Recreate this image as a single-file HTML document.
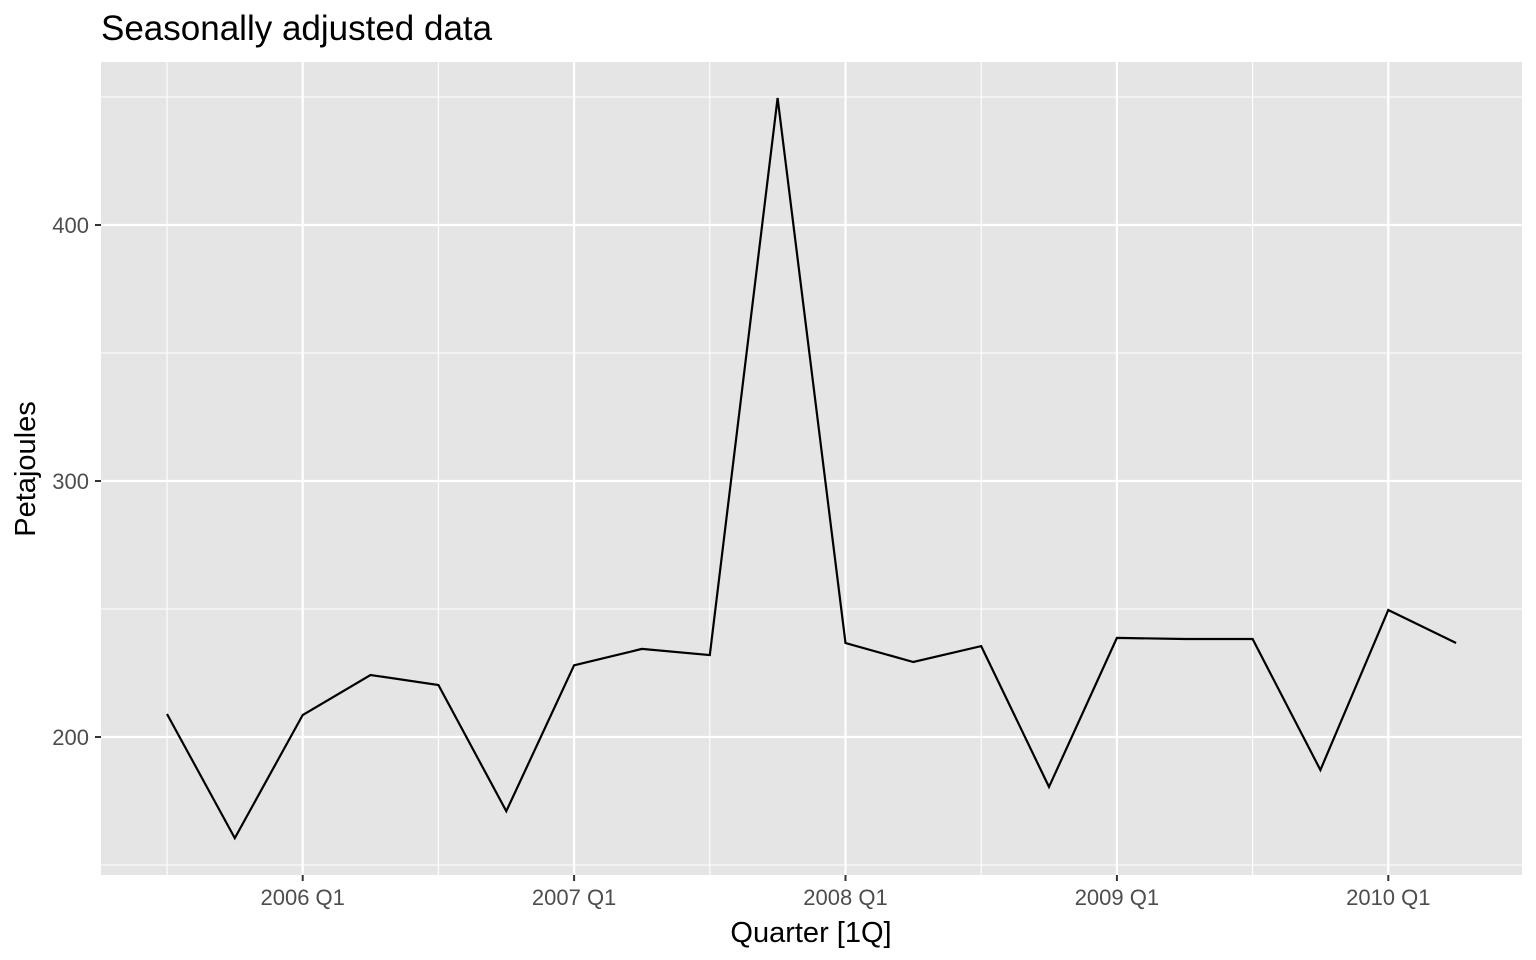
<!DOCTYPE html>
<html><head><meta charset="utf-8"><style>
body{margin:0;background:#fff;}
svg{display:block;font-family:"Liberation Sans",Arial,sans-serif;}
</style></head><body>
<svg id="chart" width="1536" height="960">
<text x="101" y="40" font-size="35" fill="#000">Seasonally adjusted data</text>
<rect x="101" y="62" width="1421" height="813" fill="#e5e5e5"/>
<g id="grid"></g>
<g id="axes"></g>
<path id="line" fill="none" stroke="#000" stroke-width="2.2"/>
<text x="811" y="942" font-size="29" text-anchor="middle" fill="#000">Quarter [1Q]</text>
<text transform="translate(35,469) rotate(-90)" font-size="29" text-anchor="middle" fill="#000">Petajoules</text>
</svg>
<script>
const quarters=["2005 Q3","2005 Q4","2006 Q1","2006 Q2","2006 Q3","2006 Q4","2007 Q1","2007 Q2","2007 Q3","2007 Q4","2008 Q1","2008 Q2","2008 Q3","2008 Q4","2009 Q1","2009 Q2","2009 Q3","2009 Q4","2010 Q1","2010 Q2"];
const values=[209,160.5,208.6,224.2,220.3,171,228,234.4,232,449.6,236.7,229.3,235.5,180.5,238.7,238.3,238.3,187.1,249.6,236.7];
const yTicks=[200,300,400];
const yMinor=[150,250,350,450];
const xTickLabels=["2006 Q1","2007 Q1","2008 Q1","2009 Q1","2010 Q1"];
const xMinorLabels=["2005 Q3","2006 Q3","2007 Q3","2008 Q3","2009 Q3"];

const NS="http://www.w3.org/2000/svg";
function xPos(q){return 167+quarters.indexOf(q)*67.85;}
function yPos(v){return 737-(v-200)*2.56;}
const grid=document.getElementById('grid'),axes=document.getElementById('axes');
function ln(p,x1,y1,x2,y2,c,w){const l=document.createElementNS(NS,'line');
l.setAttribute('x1',x1);l.setAttribute('y1',y1);l.setAttribute('x2',x2);l.setAttribute('y2',y2);
l.setAttribute('stroke',c);l.setAttribute('stroke-width',w);p.appendChild(l);return l;}
function tx(p,x,y,s,a){const t=document.createElementNS(NS,'text');t.setAttribute('x',x);t.setAttribute('y',y);
t.setAttribute('font-size','22');t.setAttribute('fill','#4d4d4d');t.setAttribute('text-anchor',a);t.textContent=s;p.appendChild(t);return t;}
yMinor.forEach(v=>{const l=ln(grid,101,yPos(v),1522,yPos(v),'#fff',1.1);

});
xMinorLabels.forEach(q=>{const l=ln(grid,xPos(q),62,xPos(q),875,'#fff',1.1);

});
yTicks.forEach(v=>{const l=ln(grid,101,yPos(v),1522,yPos(v),'#fff',2.2);


const k=ln(axes,95,yPos(v),101,yPos(v),'#333',2);


const t=tx(axes,89,yPos(v)+8,String(v),'end');

});
xTickLabels.forEach(q=>{const x=xPos(q);const l=ln(grid,x,62,x,875,'#fff',2.2);


const k=ln(axes,x,875,x,881,'#333',2);


const t=tx(axes,x,905,q,'middle');

});
document.getElementById('line').setAttribute('d',values.map((v,i)=>(i?'L':'M')+xPos(quarters[i]).toFixed(1)+','+yPos(v).toFixed(1)).join(' '));
</script>
</body></html>
